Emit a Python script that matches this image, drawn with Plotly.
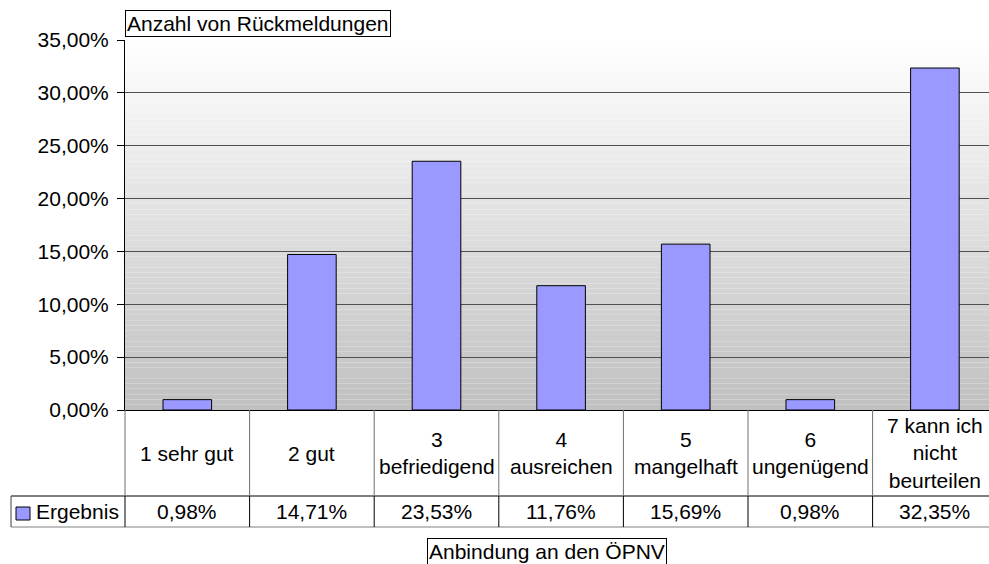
import plotly.graph_objects as go

categories = ["1 sehr gut", "2 gut", "3<br>befriedigend", "4<br>ausreichen",
              "5<br>mangelhaft", "6<br>ungenügend", "7 kann ich<br>nicht<br>beurteilen"]
values = [0.98, 14.71, 23.53, 11.76, 15.69, 0.98, 32.35]
series_name = "Ergebnis"
y_title = "Anzahl von Rückmeldungen"
x_title = "Anbindung an den ÖPNV"
y_ticks = [0, 5, 10, 15, 20, 25, 30, 35]

W, H = 989, 564
PLOT_LEFT, PLOT_TOP, PLOT_BOTTOM = 125, 40, 410   # page pixels
L, T = PLOT_LEFT, PLOT_TOP
B = H - PLOT_BOTTOM
PW, PH = W - L, PLOT_BOTTOM - PLOT_TOP
cat_px = 124.6
xmin = -0.5
xmax = xmin + PW / cat_px
FONT = "Liberation Sans, Arial, sans-serif"
FS = 21
BAR = "#9999ff"


def px_y(p):
    return (PLOT_BOTTOM - p) / PH


def px_x(p):
    return (p - PLOT_LEFT) / PW


def cat_x(v):
    return (v - xmin) / (xmax - xmin)


def fmt(v):
    return f"{v:.2f}".replace(".", ",") + "%"


n = len(categories)
xs = list(range(n))

fig = go.Figure()
fig.add_trace(go.Bar(
    x=xs, y=values, name=series_name, width=0.39,
    marker=dict(color=BAR, line=dict(color="black", width=1)),
    showlegend=False,
))

shapes = []
# gradient background
steps = 70
for i in range(steps):
    f = (i + 0.5) / steps
    c = int(round(192 + (255 - 192) * f))
    shapes.append(dict(type="rect", xref="x domain", yref="y domain",
                       x0=0, x1=1, y0=i / steps, y1=(i + 1) / steps,
                       fillcolor=f"rgb({c},{c},{c})", line=dict(width=0),
                       layer="below"))

y_cat = px_y(496)
y_val = px_y(527)
x_leg = px_x(11)
# table lines
shapes.append(dict(type="line", xref="paper", yref="paper", x0=x_leg, x1=1.02,
                   y0=y_cat, y1=y_cat, line=dict(color="black", width=1)))
shapes.append(dict(type="line", xref="paper", yref="paper", x0=x_leg, x1=1.02,
                   y0=y_val, y1=y_val, line=dict(color="#808080", width=1)))
shapes.append(dict(type="line", xref="paper", yref="paper", x0=x_leg, x1=x_leg,
                   y0=y_cat, y1=y_val, line=dict(color="#404040", width=1)))
for k in range(n):
    xp = cat_x(k - 0.5)
    shapes.append(dict(type="line", xref="paper", yref="paper", x0=xp, x1=xp,
                       y0=0, y1=y_cat, line=dict(color="#707070", width=1)))
    shapes.append(dict(type="line", xref="paper", yref="paper", x0=xp, x1=xp,
                       y0=y_cat, y1=y_val, line=dict(color="black", width=1)))
# legend key square
shapes.append(dict(type="rect", xref="paper", yref="paper",
                   x0=px_x(16), x1=px_x(30), y0=px_y(520), y1=px_y(507),
                   fillcolor=BAR, line=dict(color="black", width=1)))

annotations = []
for i, (c, v) in enumerate(zip(categories, values)):
    annotations.append(dict(x=i, xref="x", y=(0 + y_cat) / 2, yref="paper",
                            text=c, showarrow=False, xanchor="center",
                            yanchor="middle", align="center",
                            font=dict(family=FONT, size=FS, color="black")))
    annotations.append(dict(x=i, xref="x", y=(y_cat + y_val) / 2, yref="paper",
                            text=fmt(v), showarrow=False, xanchor="center",
                            yanchor="middle",
                            font=dict(family=FONT, size=FS, color="black")))
annotations.append(dict(x=px_x(34), xref="paper", y=(y_cat + y_val) / 2, yref="paper",
                        text=series_name, showarrow=False, xanchor="left",
                        yanchor="middle",
                        font=dict(family=FONT, size=FS, color="black")))
annotations.append(dict(x=0, xref="paper", y=px_y(37), yref="paper",
                        text=y_title, showarrow=False, xanchor="left",
                        yanchor="bottom", bordercolor="black", borderwidth=1,
                        borderpad=1, bgcolor="white",
                        font=dict(family=FONT, size=FS, color="black")))
annotations.append(dict(x=px_x(546.5), xref="paper", y=px_y(538), yref="paper",
                        text=x_title, showarrow=False, xanchor="center",
                        yanchor="top", bordercolor="black", borderwidth=1,
                        borderpad=1, bgcolor="white",
                        font=dict(family=FONT, size=FS, color="black")))

fig.update_layout(
    width=W, height=H,
    margin=dict(l=L, r=0, t=T, b=B, pad=0),
    paper_bgcolor="white",
    plot_bgcolor="rgba(0,0,0,0)",
    separators=",.",
    font=dict(family=FONT, size=FS, color="black"),
    shapes=shapes,
    annotations=annotations,
)
fig.update_xaxes(range=[xmin, xmax], showticklabels=False, ticks="",
                 showgrid=False, zeroline=False, showline=True,
                 linecolor="black", linewidth=1, fixedrange=True)
fig.update_yaxes(range=[0, 35], tickvals=y_ticks,
                 ticktext=[fmt(t) for t in y_ticks],
                 ticks="outside", ticklen=7, tickcolor="black", tickwidth=1,
                 ticklabelstandoff=4,
                 showgrid=True, gridcolor="#505050", gridwidth=1,
                 zeroline=False, showline=True, linecolor="black", linewidth=1,
                 tickfont=dict(family=FONT, size=FS, color="black"),
                 fixedrange=True)

fig.write_html(
    "out.html",
    config={"displayModeBar": False, "staticPlot": True},
    post_script="document.body.style.margin='0';"
                "document.documentElement.style.overflow='hidden';"
                "document.body.style.overflow='hidden';",
)
